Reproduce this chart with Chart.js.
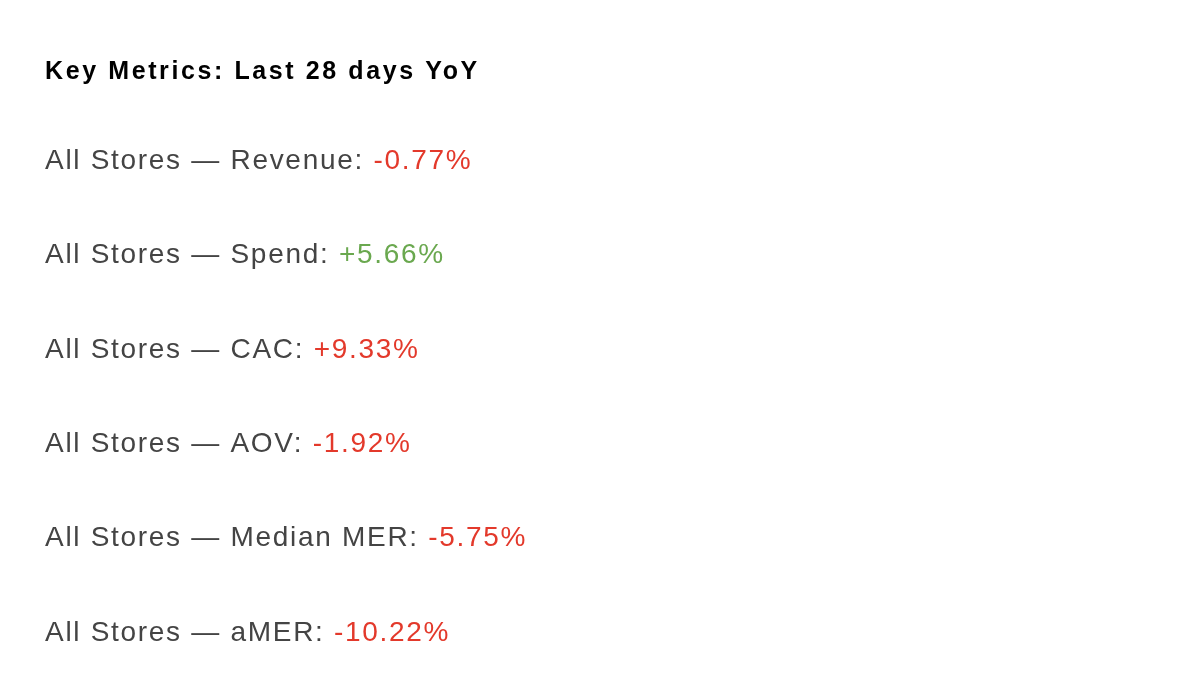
<!DOCTYPE html>
<html><head><meta charset="utf-8">
<script src="https://cdn.jsdelivr.net/npm/chart.js@4/dist/chart.umd.min.js"></script>
<style>html,body{margin:0;padding:0;background:#fff}#wrap{width:1198px;height:688px}</style>
</head><body><div id="wrap"><canvas id="c"></canvas></div>
<script>
const title = "Key Metrics: Last 28 days YoY";
const prefix = "All Stores — ";
const metrics = ["Revenue", "Spend", "CAC", "AOV", "Median MER", "aMER"];
const changes = [-0.77, 5.66, 9.33, -1.92, -5.75, -10.22];
const goodWhenUp = [true, true, false, true, true, true];

const RED = "#e3392b", GREEN = "#6aa84f", GREY = "#444444";
const FONT = "'Liberation Sans', Arial, sans-serif";

const textPlugin = {
  id: "kpiText",
  afterDraw(chart) {
    const ctx = chart.ctx, y = chart.scales.y;
    const x0 = 45;
    ctx.save();
    ctx.textBaseline = "middle";
    ctx.textAlign = "left";
    ctx.fillStyle = "#000";
    ctx.font = "bold 25px " + FONT;
    ctx.letterSpacing = "2.6px";
    ctx.fillText(title, x0, 72);
    ctx.letterSpacing = "1.7px";
    metrics.forEach((m, i) => {
      const py = y.getPixelForValue(i);
      const label = prefix + m + ": ";
      ctx.font = "28px " + FONT;
      ctx.fillStyle = GREY;
      ctx.fillText(label, x0, py);
      const w = ctx.measureText(label).width;
      const v = changes[i];
      const good = goodWhenUp[i] ? v >= 0 : v < 0;
      ctx.fillStyle = good ? GREEN : RED;
      ctx.fillText((v > 0 ? "+" : "") + v.toFixed(2) + "%", x0 + w, py);
    });
    ctx.restore();
  }
};

new Chart(document.getElementById("c"), {
  type: "scatter",
  data: { datasets: [{ data: metrics.map((m, i) => ({ x: 0, y: i })), pointRadius: 0 }] },
  options: {
    responsive: true, maintainAspectRatio: false, animation: false,
    layout: { padding: { top: 114, bottom: 8, left: 0, right: 0 } },
    plugins: { legend: { display: false }, tooltip: { enabled: false } },
    scales: {
      x: { display: false, min: -1, max: 1 },
      y: { display: false, min: -0.5, max: 5.5, reverse: true }
    }
  },
  plugins: [textPlugin]
});
</script></body></html>
